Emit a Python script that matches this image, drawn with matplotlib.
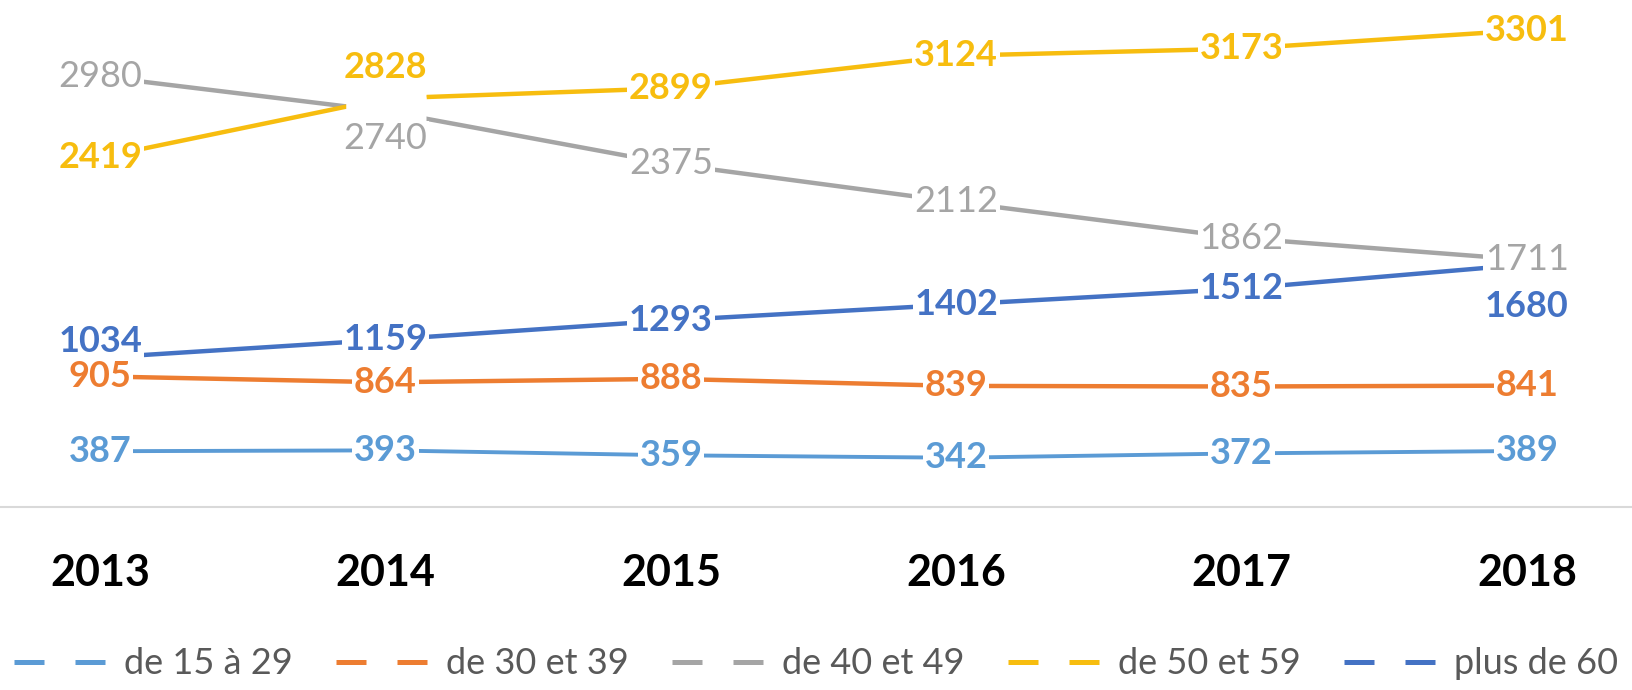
import matplotlib
matplotlib.use("Agg")
import matplotlib.pyplot as plt
from matplotlib.lines import Line2D

plt.rcParams['font.family'] = ['Lato', 'DejaVu Sans']

years = ["2013", "2014", "2015", "2016", "2017", "2018"]
age_15_29 = [387, 393, 359, 342, 372, 389]
age_30_39 = [905, 864, 888, 839, 835, 841]
age_40_49 = [2980, 2740, 2375, 2112, 1862, 1711]
age_50_59 = [2419, 2828, 2899, 3124, 3173, 3301]
age_60_plus = [1034, 1159, 1293, 1402, 1512, 1680]

names = ["de 15 à 29", "de 30 et 39", "de 40 et 49", "de 50 et 59", "plus de 60"]
series = [age_15_29, age_30_39, age_40_49, age_50_59, age_60_plus]
colors = ["#5B9BD5", "#ED7D31", "#A5A5A5", "#F7BD0F", "#4472C4"]
widths = [2.8, 3.2, 3.2, 3.2, 3.2]
weights = ["bold", "bold", "normal", "bold", "bold"]

# labels that were moved off their point (series index, point index) -> offset in points
moved = {(3, 1): 22, (2, 1): -20, (4, 0): 12, (4, 5): -30}

fig = plt.figure(figsize=(16.32, 6.9), dpi=100)
ax = fig.add_axes([-0.026, 0.265, 1.049, 0.733])
x = list(range(len(years)))

for i, (vals, col) in enumerate(zip(series, colors)):
    ax.plot(x, vals, color=col, lw=widths[i], solid_capstyle='butt', zorder=2)

# white patch left where the 2014 labels used to sit before being moved
blank = [(-1.6, -0.55), (1.6, -0.55), (1.6, 0.55), (-1.6, 0.55), (-1.6, -0.55)]
for (i, j) in moved:
    if j == 1:
        ax.plot(x[j], series[i][j], marker=blank, ms=58, mfc='white', mec='none',
                ls='none', zorder=3)

box = dict(boxstyle='square,pad=0.05', fc='white', ec='none')
for i, (vals, col) in enumerate(zip(series, colors)):
    for j, v in enumerate(vals):
        dy = moved.get((i, j), 0)
        ax.annotate(str(v), (x[j], v), xytext=(0, dy), textcoords='offset points',
                    ha='center', va='center', fontsize=26, fontweight=weights[i],
                    color=col, bbox=box, zorder=4)

ax.set_xlim(-0.5, 5.5)
ax.set_ylim(0, 3500)
ax.set_xticks(x)
ax.set_xticklabels(years, fontsize=31, fontweight='bold', color='black')
ax.tick_params(axis='x', length=0, pad=33)
ax.set_yticks([])
for s in ['top', 'left', 'right']:
    ax.spines[s].set_visible(False)
ax.spines['bottom'].set_color('#D9D9D9')
ax.spines['bottom'].set_linewidth(1.5)

handles = [Line2D([0], [0], color=c, lw=3.6, dashes=(6, 6.2)) for c in colors]
fig.legend(handles, names, loc='center', bbox_to_anchor=(0.5, 0.038), ncol=5,
           frameon=False, fontsize=26, handlelength=2.75, handletextpad=0.3,
           columnspacing=1.2, labelcolor='#595959')

fig.savefig("out.png", dpi=100, facecolor='white')
